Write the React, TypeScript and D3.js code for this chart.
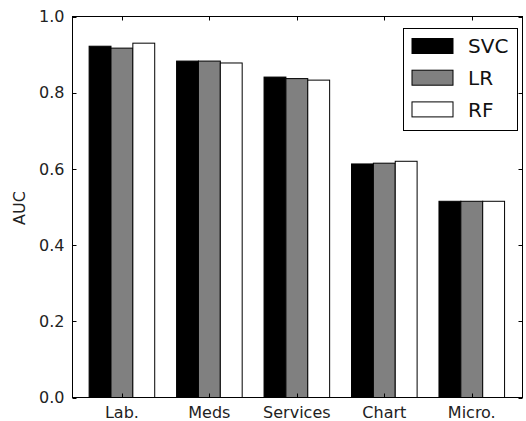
import React from "react";
import * as d3 from "d3";

const categories = ["Lab.", "Meds", "Services", "Chart", "Micro."];
const seriesNames = ["SVC", "LR", "RF"];
const svcValues = [0.922, 0.883, 0.841, 0.613, 0.515];
const lrValues = [0.917, 0.883, 0.837, 0.615, 0.515];
const rfValues = [0.93, 0.878, 0.833, 0.62, 0.515];
const yTicks = [0, 0.2, 0.4, 0.6, 0.8, 1.0];
const seriesColors = ["#000000", "#808080", "#ffffff"];

const W = 526;
const H = 421;
const left = 72.5;
const right = 522.5;
const top = 16.5;
const bottom = 397.5;
const barW = 0.25;

export default function App() {
  const x = d3.scaleLinear().domain([-0.19, 4.955]).range([left, right]);
  const y = d3.scaleLinear().domain([0, 1]).range([bottom, top]);
  const series = [svcValues, lrValues, rfValues];
  const font = "DejaVu Sans, sans-serif";
  const tl = 4;

  return (
    <svg width={W} height={H} style={{ position: "absolute", left: 0, top: 0 }} fontFamily={font}>
      <rect x={0} y={0} width={W} height={H} fill="#fff" />
      {series.map((vals, s) =>
        vals.map((v, i) => {
          const x0 = x(i + s * barW);
          const x1 = x(i + (s + 1) * barW);
          return (
            <rect
              key={`${s}-${i}`}
              x={x0}
              y={y(v)}
              width={x1 - x0}
              height={y(0) - y(v)}
              fill={seriesColors[s]}
              stroke="#000"
              strokeWidth={1}
            />
          );
        })
      )}
      {/* frame */}
      <rect x={left} y={top} width={right - left} height={bottom - top} fill="none" stroke="#000" strokeWidth={1} />
      {/* y ticks */}
      {yTicks.map((t) => (
        <g key={t}>
          <line x1={left} x2={left + tl} y1={Math.round(y(t)) + 0.5} y2={Math.round(y(t)) + 0.5} stroke="#000" />
          <line x1={right} x2={right - tl} y1={Math.round(y(t)) + 0.5} y2={Math.round(y(t)) + 0.5} stroke="#000" />
          <text x={left - 8} y={y(t)} dy="0.36em" textAnchor="end" fontSize={16} fill="#222">
            {t.toFixed(1)}
          </text>
        </g>
      ))}
      {/* x ticks */}
      {categories.map((c, i) => {
        const cx = Math.round(x(i + 1.5 * barW)) + 0.5;
        return (
          <g key={c}>
            <line x1={cx} x2={cx} y1={bottom} y2={bottom - tl} stroke="#000" />
            <line x1={cx} x2={cx} y1={top} y2={top + tl} stroke="#000" />
            <text x={x(i + 1.5 * barW)} y={bottom + 20} textAnchor="middle" fontSize={16} fill="#222">
              {c}
            </text>
          </g>
        );
      })}
      <text transform={`translate(25,208) rotate(-90)`} textAnchor="middle" fontSize={16} fill="#222">
        AUC
      </text>
      {/* legend */}
      <rect x={403.5} y={28.5} width={114} height={102} fill="#fff" stroke="#000" strokeWidth={1} />
      {seriesNames.map((n, s) => (
        <g key={n}>
          <rect x={412} y={38.5 + s * 31.7} width={41} height={15} fill={seriesColors[s]} stroke="#000" strokeWidth={1} />
          <text x={468} y={46 + s * 31.7} dy="0.36em" fontSize={20} fill="#111">
            {n}
          </text>
        </g>
      ))}
    </svg>
  );
}
